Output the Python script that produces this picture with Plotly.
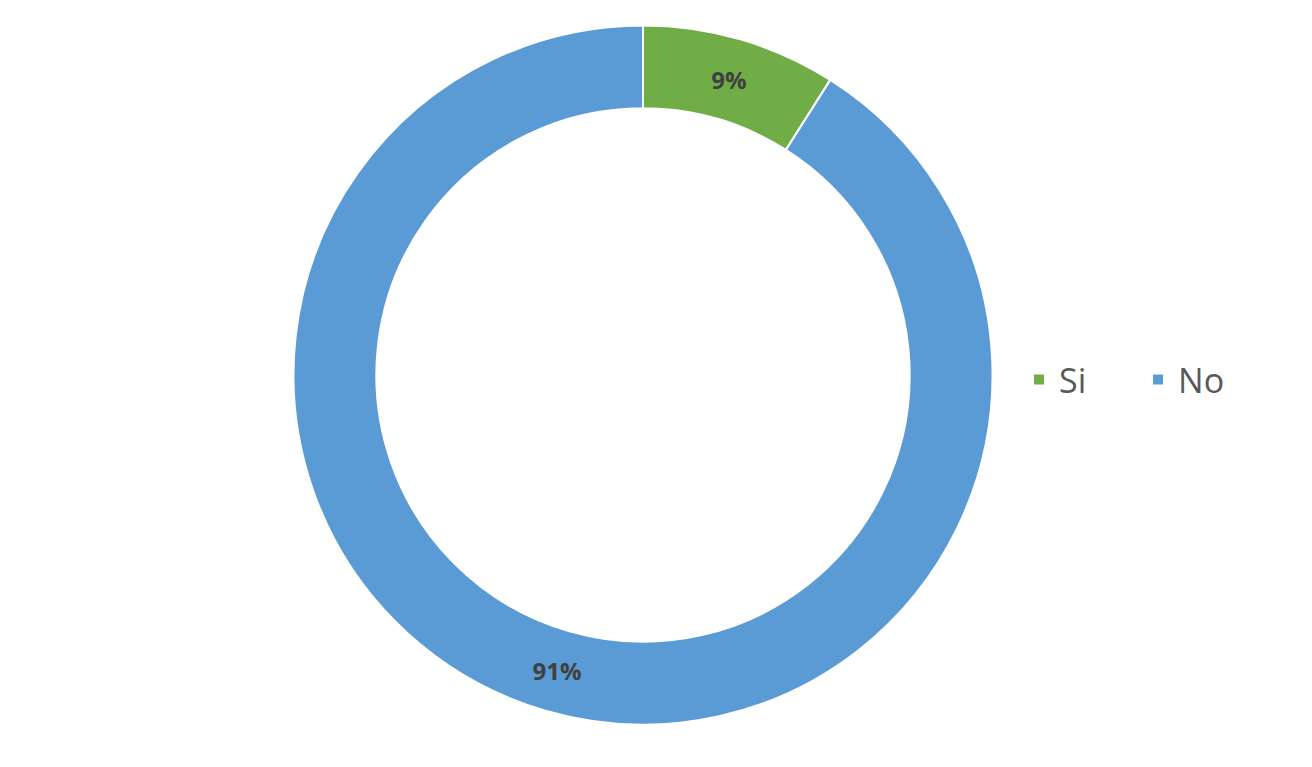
import plotly.graph_objects as go

labels = ["Si", "No"]
values = [9, 91]
colors = ["#70AD47", "#5B9BD5"]

fig = go.Figure(go.Pie(
    labels=labels,
    values=values,
    hole=0.763,
    sort=False,
    direction="clockwise",
    rotation=0,
    marker=dict(colors=colors, line=dict(color="white", width=2)),
    texttemplate="<b>%{percent:.0%}</b>",
    textposition="inside",
    insidetextorientation="horizontal",
    textfont=dict(family="Open Sans", size=24, color="#404040"),
    domain=dict(x=[0.2176, 0.7504], y=[0.0658, 0.9772]),
    hoverinfo="label+percent",
))

fig.update_layout(
    width=1312, height=767,
    margin=dict(l=0, r=0, t=0, b=0, autoexpand=False),
    paper_bgcolor="white",
    plot_bgcolor="white",
    showlegend=True,
    legend=dict(
        orientation="h",
        x=0.7706, y=0.515, xanchor="left", yanchor="middle",
        font=dict(family="Open Sans", size=34, color="#595959"),
        itemwidth=30,
        entrywidth=74,
        entrywidthmode="pixels",
        traceorder="normal",
    ),
)

fig.write_html("out.html")
